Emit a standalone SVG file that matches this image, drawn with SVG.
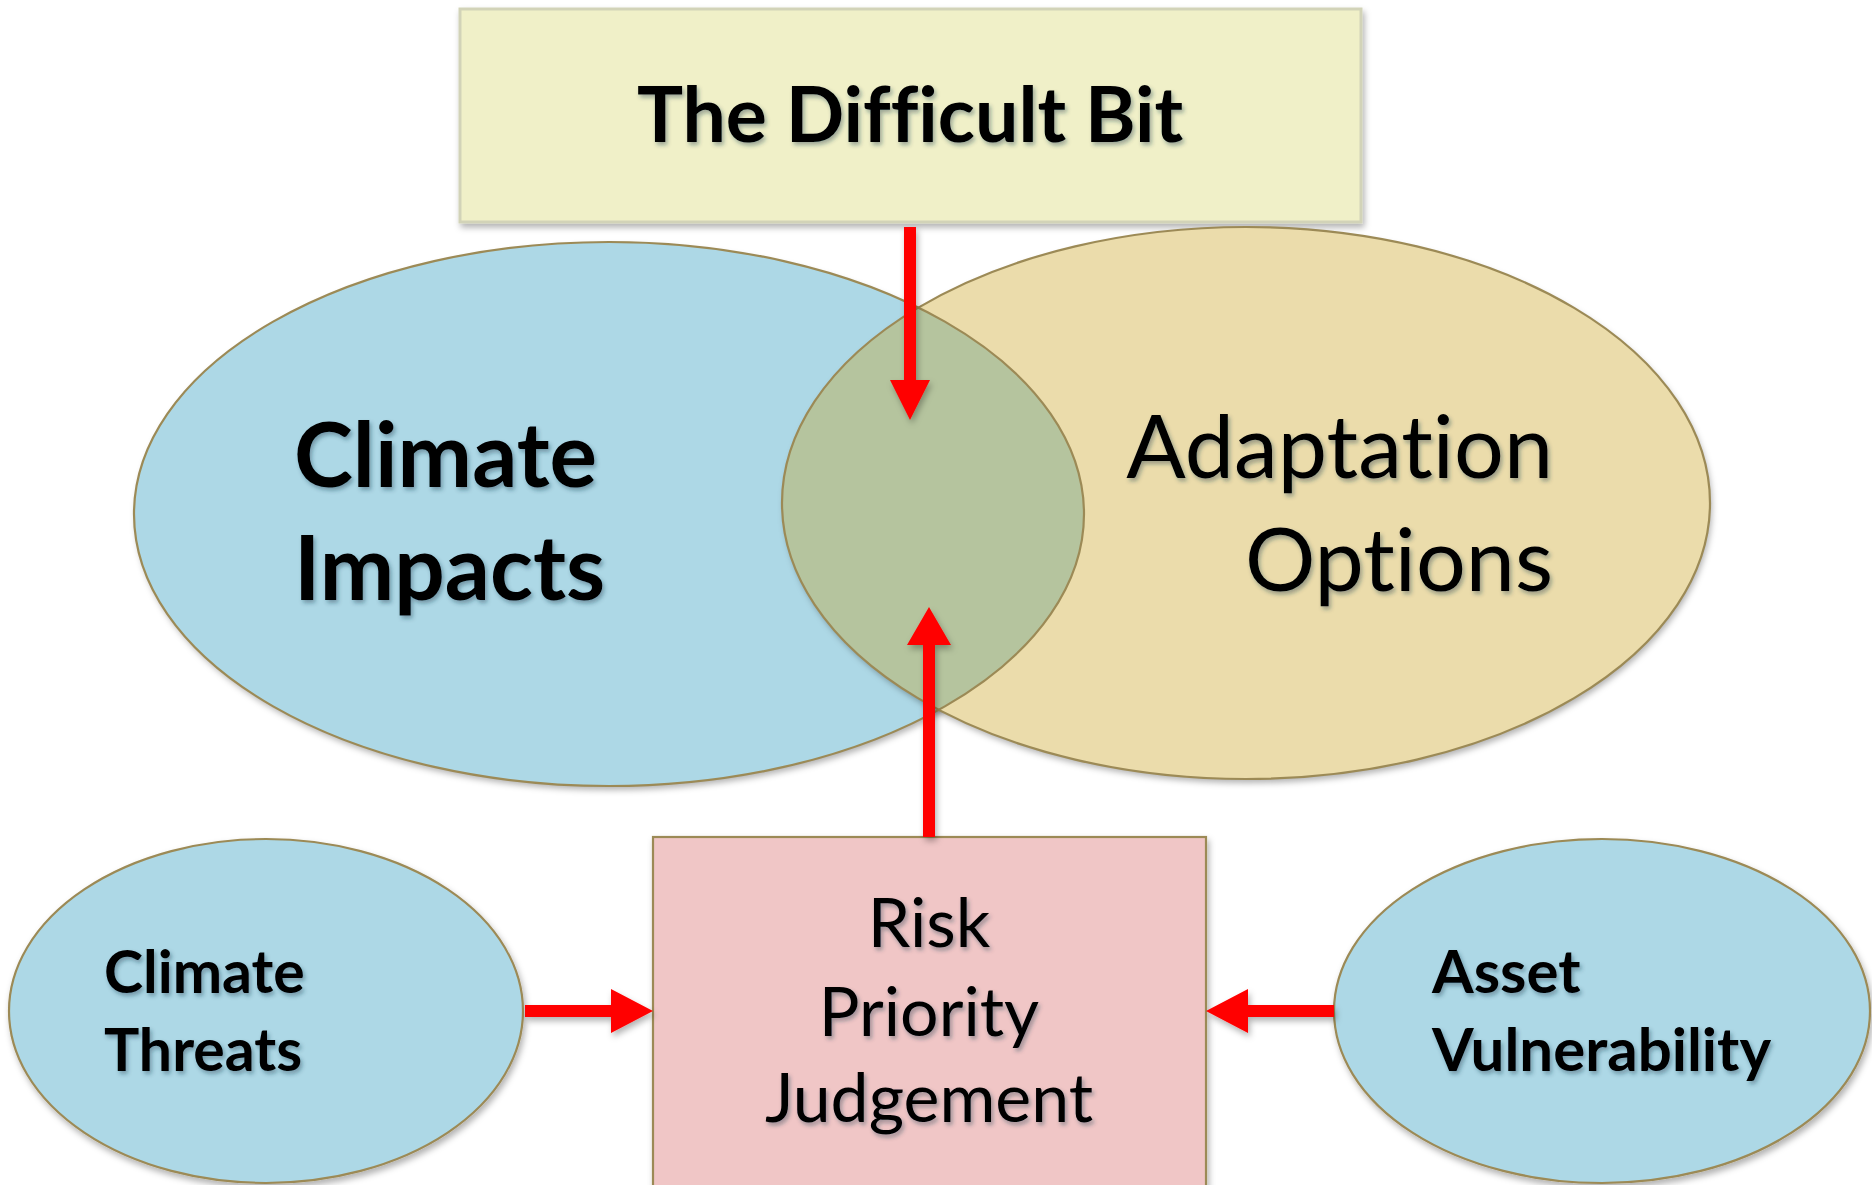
<svg xmlns="http://www.w3.org/2000/svg" width="1872" height="1185" viewBox="0 0 1872 1185">
<style>
.outline{stroke:#9c8a56;stroke-width:2.2}
.blue{fill:#add8e6}
.tan{fill:#ebdcab}
text{font-variant-ligatures:none;font-feature-settings:"liga" 0,"clig" 0,"dlig" 0}
.bold{font-family:Lato,"Open Sans","Liberation Sans",sans-serif;font-weight:bold;fill:#000}
.reg{font-family:Lato,"Open Sans","Liberation Sans",sans-serif;font-weight:normal;fill:#000}
.arrow{fill:#ff0000}
</style>
<defs>
<filter id="sh" x="-10%" y="-10%" width="125%" height="125%">
<feDropShadow dx="2" dy="4" stdDeviation="3" flood-color="#000" flood-opacity="0.3"/>
</filter>
<filter id="tsh" x="-10%" y="-20%" width="125%" height="150%">
<feDropShadow dx="2" dy="3" stdDeviation="2" flood-color="#1a3a4a" flood-opacity="0.4"/>
</filter>
<clipPath id="leftClip"><ellipse cx="609" cy="514" rx="475" ry="272"/></clipPath>
</defs>

<g id="difficult-bit">
<rect x="460" y="9" width="901" height="213" fill="#f0f0c8" stroke="#d2d3b8" stroke-width="3" filter="url(#sh)"/>
<text x="910" y="142" text-anchor="middle" font-size="77" class="bold" filter="url(#tsh)">The Difficult Bit</text>
</g>

<g id="climate-impacts">
<ellipse cx="609" cy="514" rx="475" ry="272" class="blue" filter="url(#sh)"/>
</g>
<g id="adaptation-options">
<ellipse cx="1246" cy="503" rx="464" ry="276" class="tan" filter="url(#sh)"/>
</g>
<g id="overlap">
<ellipse cx="1246" cy="503" rx="464" ry="276" fill="#b5c49e" clip-path="url(#leftClip)"/>
<ellipse cx="609" cy="514" rx="475" ry="272" fill="none" class="outline"/>
<ellipse cx="1246" cy="503" rx="464" ry="276" fill="none" class="outline"/>
</g>
<g id="climate-impacts-label">
<text class="bold" font-size="89" filter="url(#tsh)"><tspan x="294" y="487">Climate</tspan><tspan x="294" y="600">Impacts</tspan></text>
</g>
<g id="adaptation-options-label">
<text class="reg" font-size="88" text-anchor="end" filter="url(#tsh)"><tspan x="1553" y="478">Adaptation</tspan><tspan x="1553" y="591">Options</tspan></text>
</g>

<g id="risk">
<rect x="653" y="837" width="553" height="360" fill="#f0c6c6" class="outline" filter="url(#sh)"/>
<text class="reg" font-size="68" text-anchor="middle" filter="url(#tsh)"><tspan x="929" y="947">Risk</tspan><tspan x="929" y="1036">Priority</tspan><tspan x="929" y="1122">Judgement</tspan></text>
</g>

<g id="climate-threats">
<ellipse cx="266" cy="1011" rx="257" ry="172" class="blue outline" filter="url(#sh)"/>
<text class="bold" font-size="59" filter="url(#tsh)"><tspan x="104" y="993">Climate</tspan><tspan x="104" y="1071">Threats</tspan></text>
</g>

<g id="asset-vulnerability">
<ellipse cx="1602" cy="1011" rx="268" ry="172" class="blue outline" filter="url(#sh)"/>
<text class="bold" font-size="60" filter="url(#tsh)"><tspan x="1432" y="993">Asset</tspan><tspan x="1432" y="1071">Vulnerability</tspan></text>
</g>

<g id="connectors" filter="url(#sh)">
<path class="arrow" d="M904 227 H916 V380 H930 L910 420 L890 380 H904 Z"/>
<path class="arrow" d="M923 837 V645 H907 L929 607 L951 645 H935 V837 Z"/>
<path class="arrow" d="M525 1005 H611 V989 L653 1011 L611 1033 V1017 H525 Z"/>
<path class="arrow" d="M1334 1005 H1248 V989 L1206 1011 L1248 1033 V1017 H1334 Z"/>
</g>
</svg>
